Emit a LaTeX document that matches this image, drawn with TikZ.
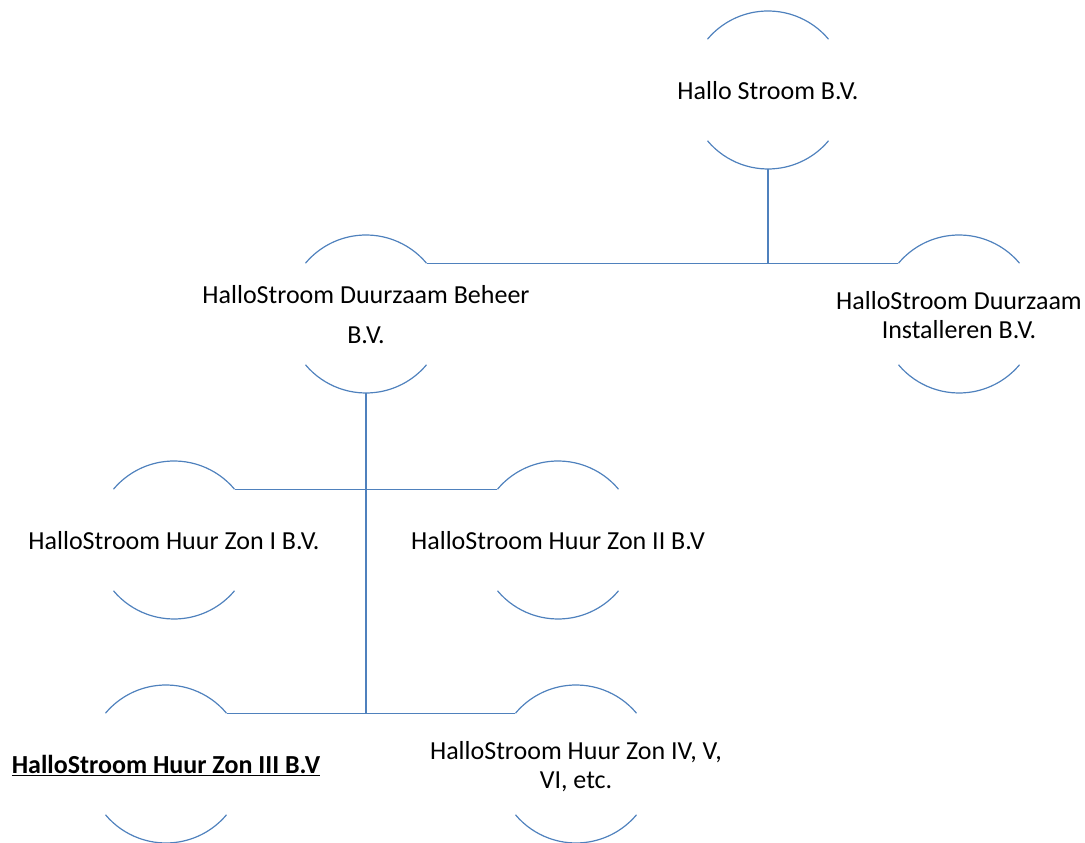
\documentclass[tikz,border=0pt]{standalone}
\usepackage{fontspec}
\setmainfont{Carlito}
\definecolor{linkblue}{RGB}{79,129,189}
\newcommand{\orgname}[1]{\raisebox{-4pt}[\height][\depth]{\makebox[0pt]{\begin{tabular}{@{}c@{}}#1\end{tabular}}}}

\begin{document}
\begin{tikzpicture}[x=1pt,y=1pt,
% circles are only drawn as a top and a bottom arc
company/.style={circle,minimum size=158pt,inner sep=0pt,outer sep=0pt,
                font=\fontsize{26}{29}\selectfont},
ring/.style={linkblue,line width=1.2pt},
link/.style={linkblue,line width=1.2pt},
]
    \useasboundingbox (0,0) rectangle (1085,843);
    \node [company] (stroom)  at (768,753) {\orgname{Hallo Stroom B.V.}};
    \node [company] (beheer)  at (366,529) {\orgname{HalloStroom Duurzaam Beheer\\[11pt] B.V.}};
    \node [company] (install) at (959,529) {\orgname{HalloStroom Duurzaam\\ Installeren B.V.}};
    \node [company] (zon1)    at (174,303) {\orgname{HalloStroom Huur Zon I B.V.}};
    \node [company] (zon2)    at (558,303) {\orgname{HalloStroom Huur Zon II B.V}};
    \node [company] (zon3)    at (166,79)  {\orgname{\underline{\textbf{HalloStroom Huur Zon III B.V}}}};
    \node [company] (zon4)    at (576,79)  {\orgname{HalloStroom Huur Zon IV, V,\\ VI, etc.}};

    \foreach \n in {stroom,beheer,install,zon1,zon2,zon3,zon4} {
        \draw [ring] (\n.40) arc [start angle=40, end angle=140, radius=79pt];
        \draw [ring] (\n.220) arc [start angle=220, end angle=320, radius=79pt];
    }

    \draw [link] (stroom.south) -- (stroom.south |- beheer.40);
    \draw [link] (beheer.40) -- (install.140);
    \draw [link] (beheer.south) -- (beheer.south |- zon3.40);
    \draw [link] (zon1.40) -- (zon2.140);
    \draw [link] (zon3.40) -- (zon4.140);
\end{tikzpicture}
\end{document}
